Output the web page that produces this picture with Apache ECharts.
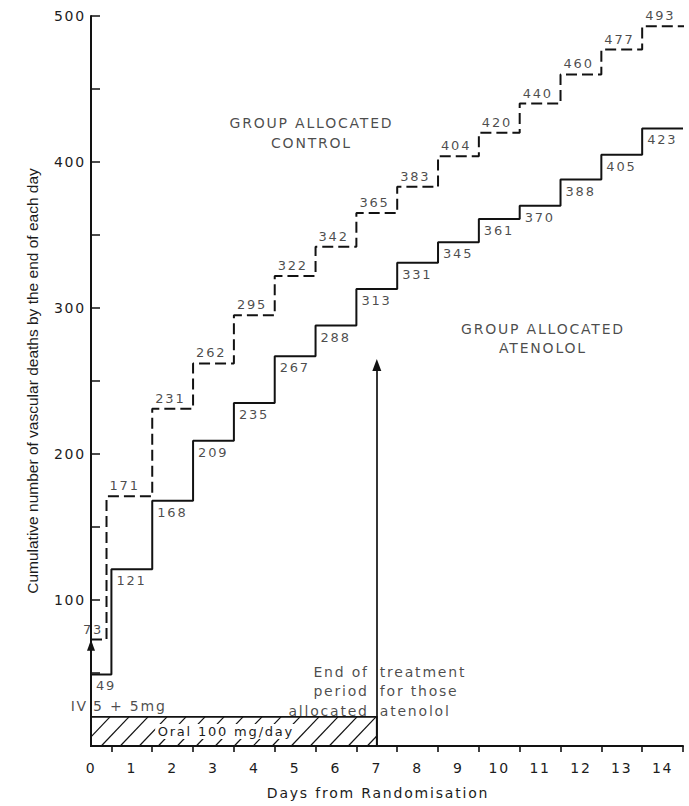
<!DOCTYPE html>
<html>
<head>
<meta charset="utf-8">
<script src="https://cdn.jsdelivr.net/npm/echarts@6/dist/echarts.min.js"></script>
<style>
  html, body { margin: 0; padding: 0; background: #ffffff; }
  #chart { width: 689px; height: 806px; }
  /* typewriter-style tracking for the annotation face */
  #chart text[style*="DejaVu"] { letter-spacing: 1.8px; }
</style>
</head>
<body>
<div id="chart"></div>
<script>
// Days from randomisation and cumulative vascular deaths at the end of each day
const days = [0, 1, 2, 3, 4, 5, 6, 7, 8, 9, 10, 11, 12, 13, 14];
const controlDeaths = [73, 171, 231, 262, 295, 322, 342, 365, 383, 404, 420, 440, 460, 477, 493];
const atenololDeaths = [49, 121, 168, 209, 235, 267, 288, 313, 331, 345, 361, 370, 388, 405, 423];
const deathTicks = [100, 200, 300, 400, 500];

// Annotation anchors, in axis units (day, deaths)
const ivArrow = [[0, 0], [0, 69]];
const endArrow = [[7, 0], [7, 261]];
const oralBox = [0, 7, 0, 20];           // day from, day to, deaths from, deaths to
const controlNote = [5.4, 420];
const atenololNote = [11.07, 279];
const endNote = [7, 37.5];
const ivNote = [0, 27.5];

const face = 'DejaVu Sans';
const ink = '#121212';
const textInk = '#1c1c1c';

// a day's count is held from the half-day boundary before it to the one after it
const riserX = i => (i === 0 ? 0 : days[i] - 0.5);
const atenololSteps = atenololDeaths.map((v, i) => [riserX(i), v])
  .concat([[days[days.length - 1] + 0.5, atenololDeaths[atenololDeaths.length - 1]]]);
const controlSteps = controlDeaths.map((v, i) => [i === 1 ? 0.38 : riserX(i), v])
  .concat([[days[days.length - 1] + 0.65, controlDeaths[controlDeaths.length - 1]]]);

const halfDays = [];
for (let k = 0; k <= days[days.length - 1] * 2 + 1; k++) halfDays.push(String(k / 2));

const baseLabel = { fontFamily: face, fontSize: 13, color: textInk };

const chart = echarts.init(document.getElementById('chart'), null, { renderer: 'svg' });

chart.setOption({
  animation: false,
  backgroundColor: '#ffffff',
  grid: { left: 91, right: 6, top: 16, bottom: 60, containLabel: false, outerBoundsMode: 'none' },
  xAxis: [
    {
      type: 'value', min: 0, max: 14.5, interval: 0.5,
      name: 'Days from Randomisation', nameLocation: 'middle', nameGap: 40, nameMoveOverlap: false,
      nameTextStyle: { fontFamily: face, fontSize: 14, color: textInk, padding: [0, 18, 0, 0] },
      axisLine: { show: true, onZero: false, lineStyle: { color: ink, width: 2 } },
      axisTick: { show: false },
      splitLine: { show: false },
      axisLabel: {
        margin: 15, fontFamily: face, fontSize: 14, color: textInk,
        showMinLabel: true, showMaxLabel: true,
        formatter: v => (Number.isInteger(v) && days.includes(v) ? String(v) : '')
      }
    },
    {
      // tick marks at the day boundaries
      type: 'category', data: halfDays, boundaryGap: false, position: 'bottom',
      axisLine: { show: false },
      axisLabel: { show: false },
      splitLine: { show: false },
      axisTick: { show: true, inside: false, length: 6, interval: idx => idx % 2 === 1,
        lineStyle: { color: ink, width: 1.6 } }
    }
  ],
  yAxis: {
    type: 'value', min: 0, max: 500, interval: 100,
    name: 'Cumulative number of vascular deaths by the end of each day',
    nameLocation: 'middle', nameGap: 51, nameMoveOverlap: false,
    nameTextStyle: { fontFamily: 'Liberation Sans', fontSize: 15.5, color: textInk },
    axisLine: { show: true, lineStyle: { color: ink, width: 2 } },
    axisTick: { show: true, inside: true, length: 9, lineStyle: { color: ink, width: 1.5 } },
    minorTick: { show: true, splitNumber: 2, length: 9, lineStyle: { color: ink, width: 1.5 } },
    splitLine: { show: false },
    axisLabel: {
      margin: 5, fontFamily: face, fontSize: 14, color: textInk,
      formatter: v => (deathTicks.includes(v) ? String(v) : '')
    }
  },
  series: [
    {
      // hatched oral-dosing bar along the axis
      type: 'custom', xAxisIndex: 0, yAxisIndex: 0, silent: true, z: 1,
      data: [oralBox],
      renderItem(params, api) {
        const tl = api.coord([api.value(0), api.value(3)]);
        const br = api.coord([api.value(1), api.value(2)]);
        const x0 = tl[0], y0 = tl[1], x1 = br[0], y1 = br[1];
        const h = y1 - y0, run = 0.95, gap = 19;
        const children = [];
        for (let xb = x0 - h * run; xb < x1; xb += gap) {
          let xa = xb, ya = y1, xc = xb + h * run, yc = y0;
          if (xa < x0) { ya = y1 - (x0 - xb) / run; xa = x0; }
          if (xc > x1) { yc = y1 - (x1 - xb) / run; xc = x1; }
          if (xc <= xa) continue;
          children.push({ type: 'line', shape: { x1: xa, y1: ya, x2: xc, y2: yc },
            style: { stroke: ink, lineWidth: 1.2 } });
        }
        children.push({ type: 'rect', shape: { x: x0, y: y0, width: x1 - x0, height: h },
          style: { fill: 'none', stroke: ink, lineWidth: 1.8 } });
        children.push({ type: 'text', x: (x0 + x1) / 2 - 8, y: (y0 + y1) / 2,
          style: { text: 'Oral 100 mg/day', fontFamily: face, fontSize: 13, fill: textInk,
            align: 'center', verticalAlign: 'middle', backgroundColor: '#ffffff', padding: [1, 16] } });
        return { type: 'group', children };
      }
    },
    {
      name: 'Group allocated control', type: 'line', xAxisIndex: 0, yAxisIndex: 0,
      data: controlSteps, step: 'end', showSymbol: false, symbol: 'none', clip: false, z: 3,
      lineStyle: { color: ink, width: 2, type: [11, 5] },
      markLine: {
        silent: true, symbol: ['none', 'triangle'], symbolSize: [8, 11],
        label: { show: false },
        lineStyle: { color: ink, width: 2, type: [4, 3] },
        data: [[{ coord: ivArrow[0] }, { coord: ivArrow[1] }]]
      }
    },
    {
      name: 'Group allocated atenolol', type: 'line', xAxisIndex: 0, yAxisIndex: 0,
      data: atenololSteps, step: 'end', showSymbol: false, symbol: 'none', z: 3,
      lineStyle: { color: ink, width: 2 },
      markLine: {
        silent: true, symbol: ['none', 'triangle'], symbolSize: [9, 12],
        label: { show: false },
        lineStyle: { color: ink, width: 1.7, type: 'solid' },
        data: [[{ coord: endArrow[0] }, { coord: endArrow[1] }]]
      }
    },
    {
      // control counts, above each dashed step
      type: 'scatter', xAxisIndex: 0, yAxisIndex: 0, silent: true, symbolSize: 0, z: 4,
      itemStyle: { color: 'rgba(0,0,0,0)' },
      data: controlSteps.slice(0, -1).map((p, i) => (i === 0
        ? { value: p, label: { position: [-8, -16] } }
        : { value: p })),
      label: Object.assign({ show: true, position: [3, -17], align: 'left', verticalAlign: 'top',
        formatter: p => String(p.value[1]) }, baseLabel)
    },
    {
      // atenolol counts, below each solid step
      type: 'scatter', xAxisIndex: 0, yAxisIndex: 0, silent: true, symbolSize: 0, z: 4,
      itemStyle: { color: 'rgba(0,0,0,0)' },
      data: atenololSteps.slice(0, -1),
      label: Object.assign({ show: true, position: [5, 5], align: 'left', verticalAlign: 'top',
        formatter: p => String(p.value[1]) }, baseLabel)
    },
    {
      // text notes
      type: 'scatter', xAxisIndex: 0, yAxisIndex: 0, silent: true, symbolSize: 0, z: 4,
      itemStyle: { color: 'rgba(0,0,0,0)' },
      label: { show: true, fontFamily: face, fontSize: 14, color: textInk, lineHeight: 19.5,
        formatter: p => p.name },
      data: [
        { name: 'GROUP ALLOCATED\nCONTROL', value: controlNote,
          label: { position: [0, 0], align: 'center', verticalAlign: 'middle' } },
        { name: 'GROUP ALLOCATED\nATENOLOL', value: atenololNote,
          label: { position: [0, 0], align: 'center', verticalAlign: 'middle' } },
        { name: 'End of\nperiod\nallocated', value: endNote,
          label: { position: [-8, 0], align: 'right', verticalAlign: 'middle' } },
        { name: 'treatment\nfor those\natenolol', value: endNote,
          label: { position: [3, 0], align: 'left', verticalAlign: 'middle' } },
        { name: 'IV', value: ivNote,
          label: { position: [-3, 0], align: 'right', verticalAlign: 'middle' } },
        { name: '5 + 5mg', value: ivNote,
          label: { position: [2, 0], align: 'left', verticalAlign: 'middle' } }
      ]
    }
  ]
});
</script>
</body>
</html>
